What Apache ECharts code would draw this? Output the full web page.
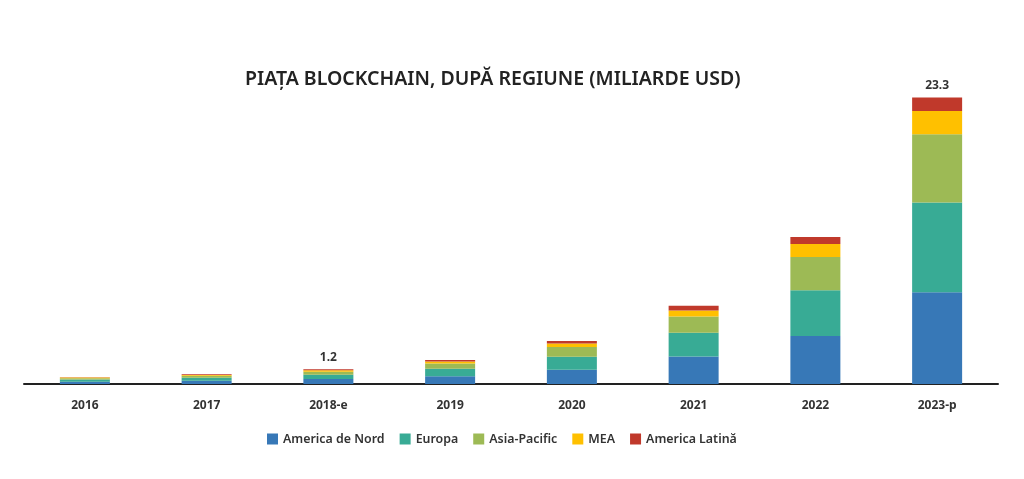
<!DOCTYPE html>
<html><head><meta charset="utf-8">
<script src="https://cdn.jsdelivr.net/npm/echarts@6/dist/echarts.min.js"></script>
<style>html,body{margin:0;padding:0;background:#fff}#c{width:1024px;height:479px}</style>
</head><body><div id="c"></div>
<script>
const categories = ['2016','2017','2018-e','2019','2020','2021','2022','2023-p'];
const americaNord = [0.19,0.27,0.40,0.62,1.16,2.24,3.90,7.44];
const europa      = [0.17,0.24,0.35,0.62,1.06,1.92,3.71,7.30];
const asiaPacific = [0.11,0.16,0.25,0.43,0.79,1.32,2.70,5.54];
const mea         = [0.05,0.07,0.12,0.15,0.27,0.49,1.06,1.87];
const americaLat  = [0.02,0.05,0.08,0.13,0.22,0.38,0.57,1.11];
const totalLabels = ['','','1.2','','','','','23.3'];
const seriesNames = ['America de Nord','Europa','Asia-Pacific','MEA','America Latină'];
const colors = ['#3778b7','#38ab95','#9dba55','#ffc000','#c0392b'];
const dataSets = [americaNord, europa, asiaPacific, mea, americaLat];

const chart = echarts.init(document.getElementById('c'));
const series = dataSets.map((d,i)=>({
  name: seriesNames[i], type:'bar', stack:'t', data:d, barWidth:50,
  itemStyle:{color:colors[i]},
  label: i===4 ? {show:true, position:'top', distance:6,
    formatter:p=>totalLabels[p.dataIndex], fontFamily:'Noto Sans', fontWeight:'bold', fontSize:12, color:'#333'} : {show:false}
}));
chart.setOption({
  animation:false,
  title:{text:'PIAȚA BLOCKCHAIN, DUPĂ REGIUNE (MILIARDE USD)', left:240, top:64,
    textStyle:{fontFamily:'Noto Sans', fontSize:19.5, fontWeight:600, color:'#222'}},
  legend:{bottom:29, left:262, itemWidth:11, itemHeight:11, itemGap:15, icon:'rect',
    textStyle:{fontFamily:'Noto Sans', fontSize:12.4, fontWeight:600, color:'#333'}},
  grid:{left:24, right:26, top:76, bottom:95},
  xAxis:{type:'category', data:categories,
    axisLine:{lineStyle:{color:'#222', width:2}}, axisTick:{show:false},
    axisLabel:{fontFamily:'Noto Sans', fontWeight:'bold', fontSize:12, color:'#333', margin:16}},
  yAxis:{type:'value', min:0, max:25, show:false, splitLine:{show:false}},
  series
});
</script></body></html>
